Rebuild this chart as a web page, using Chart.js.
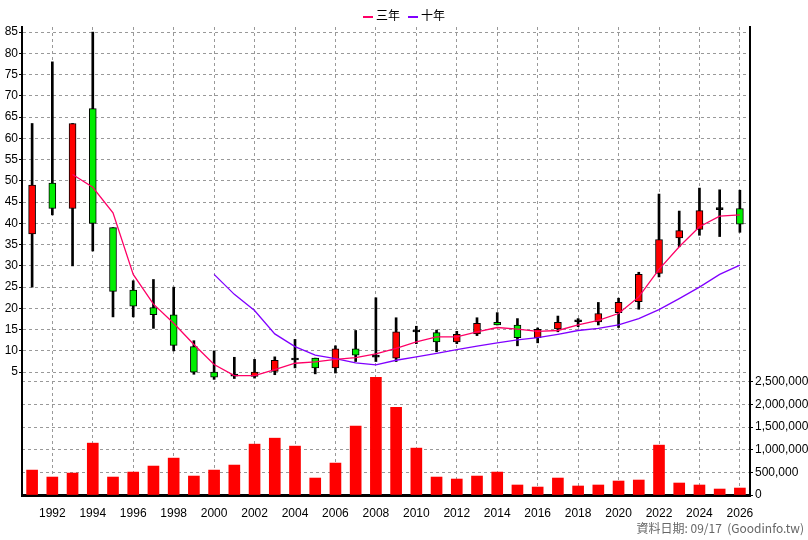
<!DOCTYPE html>
<html><head><meta charset="utf-8">
<script src="https://cdn.jsdelivr.net/npm/chart.js@4/dist/chart.umd.min.js"></script>
<style>
body{margin:0;background:#fff;font-family:"Liberation Sans",Arial,sans-serif}
#wrap{position:relative;width:808px;height:540px}
#legend{position:absolute;top:6px;left:0;width:808px;text-align:center;font-size:12px;font-family:"Noto Sans CJK TC",sans-serif}
#legend span{display:inline-block;margin:0 4px}
#legend i{display:inline-block;width:10px;height:2px;vertical-align:middle;margin-right:3px}
#foot{position:absolute;right:4px;top:519px;font-size:12px;color:#666;font-family:"Noto Sans CJK TC",sans-serif}
</style></head><body>
<div id="wrap">
<canvas id="c" width="808" height="540"></canvas>
<div id="legend"><span><i style="background:#ff0066"></i>三年</span><span><i style="background:#8000ff"></i>十年</span></div>
<div id="foot">資料日期: 09/17&nbsp; (Goodinfo.tw)</div>
</div>
<script>
const years=[];for(let y=1991;y<=2026;y++)years.push(String(y));
const open =[37.5,49.5,43.5,67,39,24.3,20.2,18.5,11,5,4.2,4,5.2,8,8.3,6,10.5,8.7,8.3,14.6,14.3,12.1,14.0,16.7,16.1,13.1,15.2,17.0,16.8,19.0,21.6,28.2,36.6,38.6,43.4,43.5];
const close=[49,43.5,63.5,40,24,20.5,18.5,11.3,5,3.8,4.2,5,7.8,8,6,10.5,9,8.7,14.5,14.6,12.1,13.9,16.5,16.1,13.1,15.1,16.7,17.0,18.8,21.4,28.0,36.2,38.3,43.0,43.4,39.8];
const high =[63.5,78,63.5,85,39,26.5,26.8,25,12.4,10,8.5,8,8.6,12.7,8.3,11.2,14.8,22.5,17.8,15.8,14.9,14.6,17.8,19,17.6,15.4,18.2,17.6,21.4,22.4,28.5,46.9,42.9,48.3,47.9,47.8];
const low  =[25,42,30,33.5,18,18,15.3,10,4.5,3.3,3.5,3.6,4.4,6,4.6,4.8,7.5,7.5,7.5,11.7,9.8,11.7,13.6,16.1,11.2,11.9,14.5,15.7,16.1,15.5,19.8,27.4,34.5,37.2,36.9,37.9];
const ma3  =[null,null,51.5,48.5,42.5,28,21,16.5,11.5,6.8,4.2,4.2,5.6,7.1,7.4,8.0,8.4,9.3,10.6,12.1,13.3,13.3,14.5,15.5,15.1,14.6,14.8,16.1,17.2,18.8,22.7,29.2,34.5,39.2,41.7,42.0];
const ma10 =[null,null,null,null,null,null,null,null,null,28,23.3,19.5,14,11,9,8.2,7.2,6.7,7.8,8.6,9.4,10.3,11.1,11.9,12.6,13.1,13.9,14.8,15.3,16.1,17.6,19.7,22.3,25.0,28.0,30.2];
const volume=[551,397,485,1147,397,507,640,816,419,551,662,1125,1257,1081,375,706,1522,2603,1941,1037,397,353,419,507,221,176,375,199,221,309,331,1103,265,221,132,154].map(v=>v*1000);

const wick=years.map((_,i)=>[low[i],high[i]]);
const body=years.map((_,i)=>open[i]===close[i]?[open[i]-0.15,open[i]+0.15]:[open[i],close[i]]);
const bodyCol=years.map((_,i)=>close[i]>open[i]?'#ff0000':(close[i]<open[i]?'#00ee00':'#000000'));
const F={family:'Liberation Sans Narrow, Liberation Sans',size:12};
new Chart(document.getElementById('c'),{
 data:{labels:years,datasets:[
  {type:'line',data:ma3,yAxisID:'y',borderColor:'#ff0066',borderWidth:1.3,pointRadius:0,order:1},
  {type:'line',data:ma10,yAxisID:'y',borderColor:'#8000ff',borderWidth:1.3,pointRadius:0,order:1},
  {type:'bar',data:body,yAxisID:'y',backgroundColor:bodyCol,borderColor:'#000',borderWidth:1,borderSkipped:false,barThickness:7,grouped:false,order:2,minBarLength:2},
  {type:'bar',data:wick,yAxisID:'y',backgroundColor:'#000',barThickness:2,grouped:false,order:3},
  {type:'bar',data:volume,yAxisID:'yv',backgroundColor:'#ff0000',barThickness:11,grouped:false,order:4}
 ]},
 options:{responsive:false,animation:false,
  layout:{padding:{top:27,left:0,right:0,bottom:0}},
  plugins:{legend:{display:false},tooltip:{enabled:false}},
  scales:{
   x:{offset:true,grid:{offset:false,color:c=>(c.tick&&+years[c.tick.value]%2===0)?'#999':'transparent',tickColor:'transparent'},border:{color:'#000',width:3,dash:[3,3]},
      ticks:{autoSkip:false,maxRotation:0,color:'#000',font:F,callback:(v,i)=>(+years[i]%2===0?years[i]:'')},
      afterFit:s=>{s.height=45}},
   y:{position:'left',min:-23.9,max:86.2,border:{color:'#000',width:2,dash:[3,3]},
      afterBuildTicks:s=>{const t=[];for(let v=5;v<=85;v+=5)t.push({value:v});s.ticks=t;},
      grid:{color:'#999',tickLength:3,tickColor:'#000'},
      ticks:{color:'#000',padding:1,font:F},
      afterFit:s=>{s.width=22}},
   yv:{position:'right',min:0,max:10350000,border:{color:'#000',width:2,dash:[3,3]},
      afterBuildTicks:s=>{const t=[];for(let v=0;v<=2500000;v+=500000)t.push({value:v});s.ticks=t;},
      grid:{color:'#999',tickLength:3,tickColor:'#000'},
      ticks:{color:'#000',padding:2,font:F,callback:v=>v.toLocaleString('en-US')},
      afterFit:s=>{s.width=58}}
  }
 }
});
</script></body></html>
